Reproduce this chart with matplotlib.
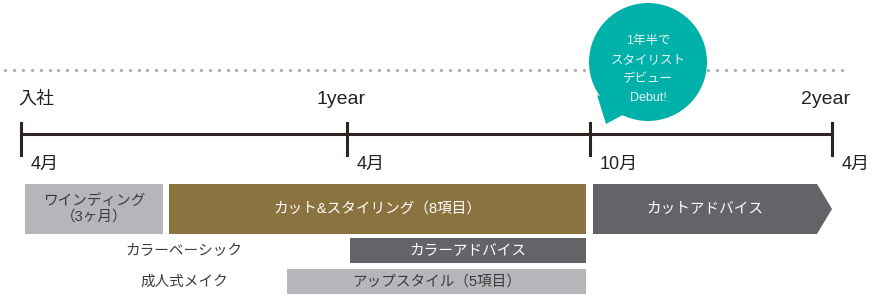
import numpy as np
import matplotlib.pyplot as plt
from matplotlib.patches import Rectangle, Polygon, Circle

plt.rcParams['font.family'] = ['Liberation Sans', 'Noto Sans CJK JP', 'DejaVu Sans']

# 目盛り（タイムライン上の位置）
tick_x = [21, 347, 590, 832]
top_labels = ['入社', '1year', '', '2year']
bottom_labels = ['4月', '4月', '10月', '4月']

# 研修の期間（開始, 終了, 行）
bars = [
    ('ワインディング\n（3ヶ月）', 25, 163, 0, '#b5b6b9', '#3c3c3c'),
    ('カット&スタイリング（8項目）', 169, 586, 0, '#8b733f', 'white'),
    ('カットアドバイス', 593, 817, 0, '#636468', 'white'),
    ('カラーアドバイス', 350, 586, 1, '#636468', 'white'),
    ('アップスタイル（5項目）', 287, 586, 2, '#b5b6b9', '#3c3c3c'),
]
side_labels = [('カラーベーシック', 1), ('成人式メイク', 2)]
bubble_lines = ['1年半で', 'スタイリスト', 'デビュー', 'Debut!']

row_top = [184, 238, 269]
row_h = [50, 25, 25]

fig = plt.figure(figsize=(8.71, 2.98), dpi=100)
ax = fig.add_axes([0, 0, 1, 1])
ax.set_xlim(0, 871)
ax.set_ylim(298, 0)
ax.axis('off')

# 点線
dots = np.arange(5, 842, 8.9)
ax.scatter(dots, np.full_like(dots, 70), s=5, color='#aaaaaa', zorder=1, linewidths=0)

# 吹き出し
ax.add_patch(Polygon([[597, 95], [606, 124], [632, 110]], closed=True,
                     color='#00b1aa', zorder=3, linewidth=0))
ax.add_patch(Circle((648, 62), 59, color='#00b1aa', zorder=3, linewidth=0))
for i, line in enumerate(bubble_lines):
    ax.text(648, 41 + i * 19, line, color='#e8f6f5', fontsize=9,
            ha='center', va='center', zorder=4)

# タイムライン
ax.plot([tick_x[0], tick_x[-1]], [134, 134], color='#2b2420', lw=2.2, zorder=2)
for x, t, b in zip(tick_x, top_labels, bottom_labels):
    ax.plot([x, x], [123, 155], color='#2b2420', lw=2.2, zorder=2)
    if t:
        if x == tick_x[0]:
            ax.text(x - 3, 99, t, fontsize=13, ha='left', va='center', color='#222222')
        else:
            ax.text(x - 6, 99, t, fontsize=14, ha='center', va='center', color='#222222')
    ax.text(x + 10, 164, b, fontsize=13, ha='left', va='center', color='#222222')

# バー
for label, x0, x1, row, fc, tc in bars:
    y0 = row_top[row]
    h = row_h[row]
    if label == 'カットアドバイス':
        ax.add_patch(Polygon([[x0, y0], [x1, y0], [x1 + 15, y0 + h / 2],
                              [x1, y0 + h], [x0, y0 + h]], closed=True,
                             facecolor=fc, edgecolor='none'))
    else:
        ax.add_patch(Rectangle((x0, y0), x1 - x0, h, facecolor=fc, edgecolor='none'))
    ax.text((x0 + x1) / 2, y0 + h / 2, label, fontsize=10.5, color=tc,
            ha='center', va='center', linespacing=1.1)

for label, row in side_labels:
    ax.text(184, row_top[row] + row_h[row] / 2, label, fontsize=10.5,
            color='#3c3c3c', ha='center', va='center')

fig.savefig('out.png', dpi=100)
